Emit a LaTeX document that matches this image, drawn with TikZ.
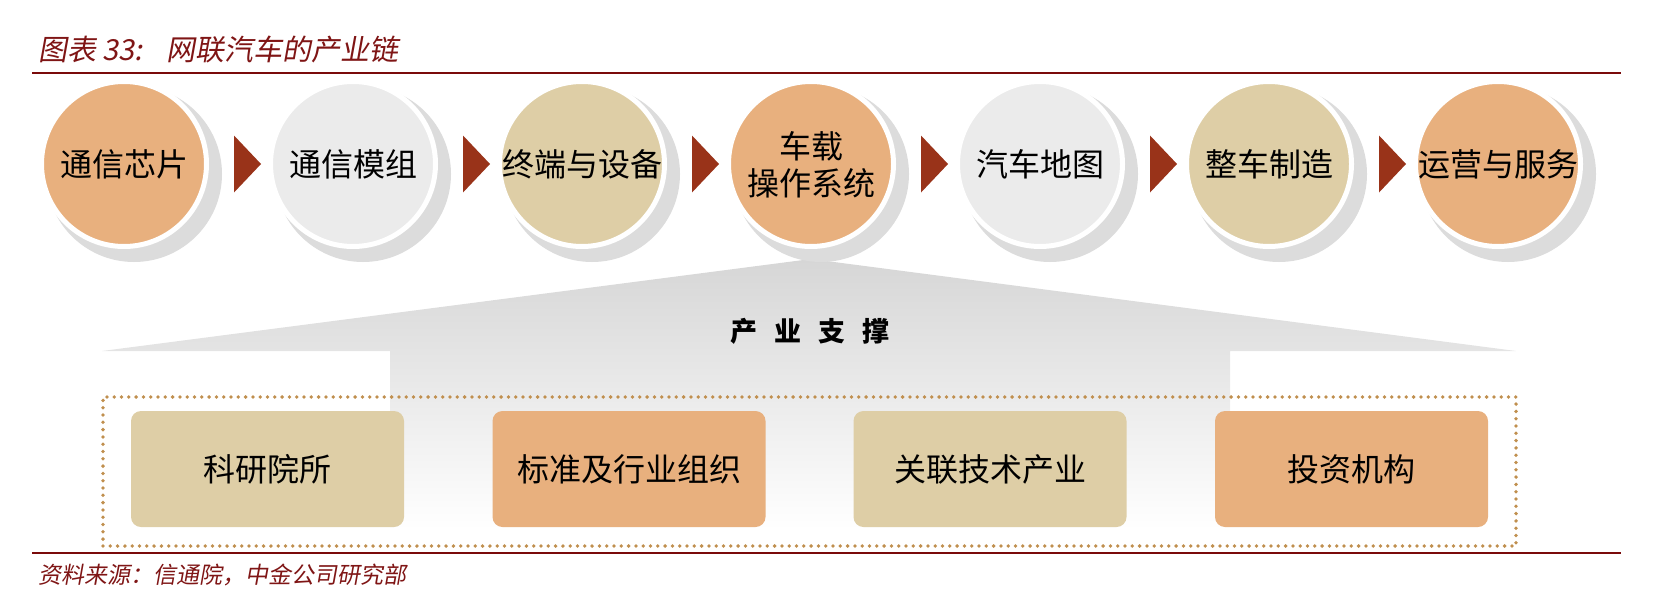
\documentclass[tikz,border=0pt]{standalone}
\usepackage{fontspec}
\setmainfont{Noto Sans CJK SC}
\newfontfamily\cjkslant[FakeSlant=0.18]{Noto Sans CJK SC}
\usetikzlibrary{calc,backgrounds}

\definecolor{orangeC}{HTML}{E8B07E}
\definecolor{grayC}{HTML}{EBEBEB}
\definecolor{tanC}{HTML}{DECEA6}
\definecolor{arrowC}{HTML}{993319}
\definecolor{shadowC}{HTML}{DCDCDC}
\definecolor{ruleC}{HTML}{7A0A0A}
\definecolor{titleC}{HTML}{7F1515}
\definecolor{dotC}{HTML}{C08F4E}
\definecolor{roofC}{HTML}{D6D6D6}

\begin{document}
\begin{tikzpicture}[x=1pt,y=-1pt,
  stage/.style={circle, minimum size=165pt, inner sep=0pt, draw=white, line width=5pt},
  stagetext/.style={font=\fontsize{32}{37}\selectfont, align=center, inner sep=0pt},
  shadowdisc/.style={fill=shadowC},
  chevron/.style={fill=arrowC},
  support/.style={rounded corners=10pt, minimum width=273pt, minimum height=116pt,
    inner sep=0pt, font=\fontsize{32}{37}\selectfont},
  dotframe/.style={draw=dotC, line width=3.8pt, line cap=round,
    dash pattern=on 0pt off 7.3pt, minimum width=1413pt, minimum height=149pt, inner sep=0pt},
  rule/.style={draw=ruleC, line width=2pt}]

\useasboundingbox (0,0) rectangle (1656,605);

% title and rules
\node[anchor=west, inner sep=0pt, text=titleC, font=\cjkslant\fontsize{29}{34}\selectfont]
  (title) at (38,50) {图表\hspace{6pt}33:\hspace{24pt}网联汽车的产业链};
\coordinate (rtl) at (32,73);
\coordinate (rtr) at (1621,73);
\draw[rule] (rtl) -- (rtr);
\coordinate (rbl) at (32,553);
\coordinate (rbr) at (1621,553);
\draw[rule] (rbl) -- (rbr);
\node[anchor=west, inner sep=0pt, text=titleC, font=\cjkslant\fontsize{23}{27}\selectfont]
  (source) at (38,575) {资料来源：信通院，中金公司研究部};

% chain of stages
\node[stage, fill=orangeC] (c1) at (124,164) {};
\node[stage, fill=grayC]   (c2) at (353,164) {};
\node[stage, fill=tanC]    (c3) at (582,164) {};
\node[stage, fill=orangeC] (c4) at (811,164) {};
\node[stage, fill=grayC]   (c5) at (1040,164) {};
\node[stage, fill=tanC]    (c6) at (1269,164) {};
\node[stage, fill=orangeC] (c7) at (1498,164) {};

\node[stagetext] (t1) at (c1) {通信芯片};
\node[stagetext] (t2) at (c2) {通信模组};
\node[stagetext] (t3) at (c3) {终端与设备};
\node[stagetext] (t4) at ($(c4)+(0,1)$) {车载\\操作系统};
\node[stagetext] (t5) at (c5) {汽车地图};
\node[stagetext] (t6) at (c6) {整车制造};
\node[stagetext] (t7) at (c7) {运营与服务};

% chevrons between stages
\foreach \i in {1,...,6}{
  \fill[chevron] ($(c\i.center)+(110,-28.5)$) -- ($(c\i.center)+(137,0)$)
    -- ($(c\i.center)+(110,28.5)$) -- cycle;
}

% supporting industries
\node[dotframe] (frame) at (809.5,471.5) {};
\node[support, fill=tanC]    (s1) at (267.5,469) {科研院所};
\node[support, fill=orangeC] (s2) at (629,469) {标准及行业组织};
\node[support, fill=tanC]    (s3) at (990,469) {关联技术产业};
\node[support, fill=orangeC] (s4) at (1351.5,469) {投资机构};

\node[inner sep=0pt, font=\bfseries\fontsize{27}{32}\selectfont] (head) at (810,331)
  {产\hspace{17pt}业\hspace{17pt}支\hspace{17pt}撑};

\begin{pgfonlayer}{background}
  % house-shaped backdrop
  \shade[top color=roofC, bottom color=white]
    (102,351) -- (811,259) -- (1516,351) -- (1230,351) -- (1230,530)
    -- (390,530) -- (390,351) -- cycle;
  % drop shadows of the stages
  \foreach \i in {1,...,7}{
    \fill[shadowdisc] ($(c\i.center)+(10,10)$) circle[radius=88pt];
  }
\end{pgfonlayer}
\end{tikzpicture}
\end{document}
